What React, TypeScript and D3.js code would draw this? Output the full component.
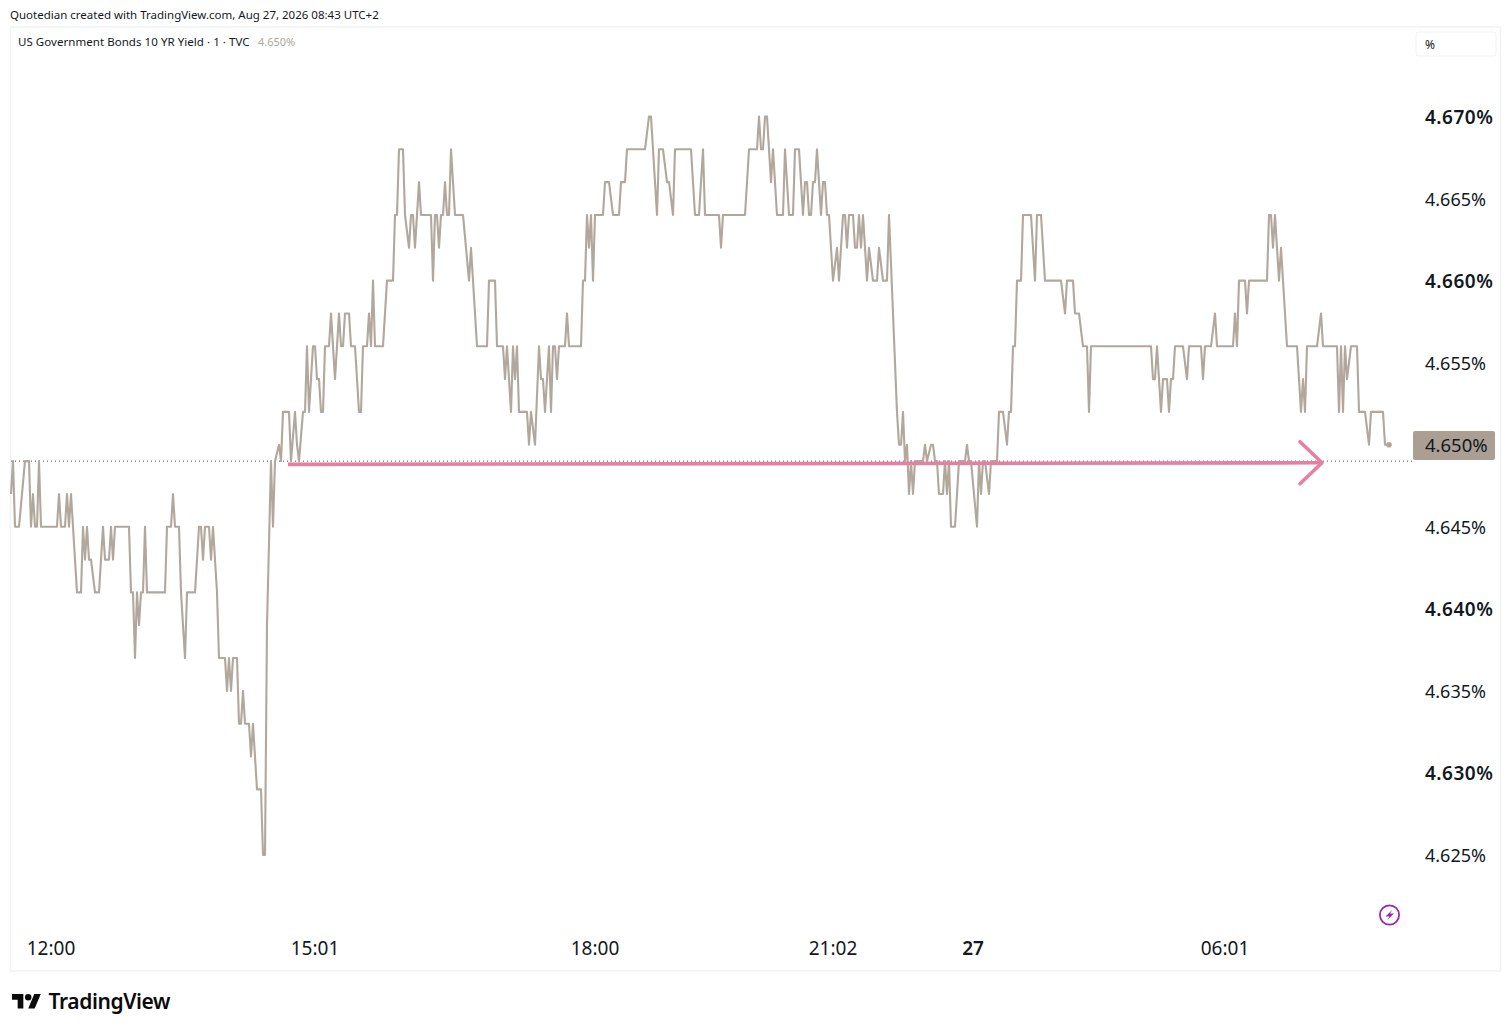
import * as d3 from "d3";

type Pt = [number, number];

// [bar index, yield] at each turn of the 1 minute line, flat stretches skipped
const morning: Pt[] = [
  [0, 4.647], [1, 4.649], [2, 4.645], [4, 4.645], [7, 4.649], [9, 4.649], [10, 4.645], [11, 4.647], [12, 4.645], [13, 4.645],
  [14, 4.649], [15, 4.645], [23, 4.645], [24, 4.647], [25, 4.645], [27, 4.645], [28, 4.647], [29, 4.645], [30, 4.647], [31, 4.645],
  [33, 4.641], [35, 4.641], [36, 4.645], [37, 4.643], [38, 4.645], [39, 4.643], [40, 4.643], [42, 4.641], [44, 4.641], [46, 4.645],
  [47, 4.643], [49, 4.643], [50, 4.645], [51, 4.643], [52, 4.645], [59, 4.645], [60, 4.641], [61, 4.641], [62, 4.637], [63, 4.641],
  [64, 4.639], [65, 4.641], [66, 4.641], [67, 4.645], [68, 4.641], [77, 4.641], [78, 4.645], [80, 4.645], [81, 4.647], [82, 4.645],
  [84, 4.645], [85, 4.641], [87, 4.637], [88, 4.641], [92, 4.641], [94, 4.645], [95, 4.645], [96, 4.643], [97, 4.645], [99, 4.645],
  [100, 4.643], [101, 4.645], [103, 4.641], [104, 4.637], [107, 4.637], [108, 4.635], [109, 4.637], [110, 4.635], [111, 4.637], [113, 4.637],
  [114, 4.633], [115, 4.633], [116, 4.635], [117, 4.633], [119, 4.633], [120, 4.631], [121, 4.633], [123, 4.629], [125, 4.629], [126, 4.625],
  [127, 4.625], [128, 4.639], [130, 4.649], [131, 4.645], [132, 4.649], [134, 4.65], [135, 4.649], [136, 4.652], [139, 4.652], [140, 4.649],
  [142, 4.652], [143, 4.65], [144, 4.649], [146, 4.652], [147, 4.652],
];
const afternoon: Pt[] = [
  [148, 4.656], [149, 4.652], [151, 4.656], [152, 4.656], [153, 4.654], [154, 4.654], [155, 4.652], [156, 4.652], [157, 4.656], [159, 4.656],
  [160, 4.658], [162, 4.654], [164, 4.658], [165, 4.656], [166, 4.656], [167, 4.658], [169, 4.658], [170, 4.656], [172, 4.656], [174, 4.652],
  [175, 4.652], [176, 4.656], [178, 4.656], [179, 4.658], [180, 4.656], [181, 4.66], [182, 4.656], [186, 4.656], [188, 4.66], [191, 4.66],
  [192, 4.664], [193, 4.664], [194, 4.668], [196, 4.668], [197, 4.664], [199, 4.662], [200, 4.664], [201, 4.664], [202, 4.662], [204, 4.666],
  [205, 4.664], [210, 4.664], [211, 4.66], [212, 4.664], [213, 4.664], [214, 4.662], [215, 4.664], [216, 4.664], [217, 4.666], [218, 4.664],
  [219, 4.664], [220, 4.668], [222, 4.664], [226, 4.664], [229, 4.66], [230, 4.662], [231, 4.66], [233, 4.656], [238, 4.656], [239, 4.66],
  [242, 4.66], [243, 4.656], [246, 4.656], [247, 4.654], [248, 4.656], [250, 4.652], [251, 4.656], [252, 4.654], [253, 4.656], [254, 4.652],
  [258, 4.652], [259, 4.65], [260, 4.652], [262, 4.65], [264, 4.656], [265, 4.654], [266, 4.654], [267, 4.652], [269, 4.656], [270, 4.652],
  [271, 4.656], [272, 4.656], [273, 4.654], [274, 4.656], [277, 4.656], [278, 4.658], [279, 4.656], [285, 4.656], [286, 4.66], [287, 4.66],
];
const evening: Pt[] = [
  [288, 4.664], [289, 4.662], [290, 4.664], [291, 4.66], [292, 4.664], [296, 4.664], [297, 4.666], [299, 4.666], [301, 4.664], [304, 4.664],
  [305, 4.666], [307, 4.666], [308, 4.668], [317, 4.668], [319, 4.67], [320, 4.67], [323, 4.664], [324, 4.668], [326, 4.668], [328, 4.666],
  [329, 4.666], [331, 4.664], [332, 4.668], [340, 4.668], [342, 4.664], [344, 4.664], [346, 4.668], [347, 4.664], [354, 4.664], [355, 4.662],
  [356, 4.664], [367, 4.664], [369, 4.668], [373, 4.668], [374, 4.67], [375, 4.668], [376, 4.668], [377, 4.67], [378, 4.67], [380, 4.666],
  [381, 4.668], [383, 4.664], [386, 4.664], [387, 4.668], [389, 4.664], [391, 4.664], [392, 4.668], [394, 4.668], [396, 4.664], [397, 4.666],
  [398, 4.666], [399, 4.664], [400, 4.664], [401, 4.666], [402, 4.666], [403, 4.668], [405, 4.664], [406, 4.666], [407, 4.666], [408, 4.664],
  [409, 4.664], [411, 4.66], [413, 4.662], [414, 4.66], [416, 4.664], [417, 4.664], [418, 4.662], [419, 4.664], [421, 4.664], [422, 4.662],
  [423, 4.662], [424, 4.664], [425, 4.662], [426, 4.664], [427, 4.662], [428, 4.66], [429, 4.662], [431, 4.66], [433, 4.66], [434, 4.662],
  [436, 4.66], [438, 4.66], [439, 4.664], [443, 4.652], [444, 4.65], [445, 4.65], [446, 4.652], [447, 4.649], [448, 4.65], [449, 4.647],
  [450, 4.649], [451, 4.647], [452, 4.649], [456, 4.649], [457, 4.65], [458, 4.649], [460, 4.65], [461, 4.65], [462, 4.649], [463, 4.649],
  [464, 4.647], [466, 4.647], [467, 4.649], [468, 4.647], [469, 4.649], [470, 4.645], [472, 4.645], [474, 4.649], [477, 4.649], [478, 4.65],
  [479, 4.649], [480, 4.649], [483, 4.645], [484, 4.649], [485, 4.647], [486, 4.649], [487, 4.649], [489, 4.647], [490, 4.649], [493, 4.649],
];
const overnight: Pt[] = [
  [494, 4.652], [496, 4.652], [498, 4.65], [499, 4.652], [500, 4.652], [501, 4.656], [502, 4.656], [503, 4.66], [505, 4.66], [506, 4.664],
  [510, 4.664], [512, 4.66], [513, 4.664], [515, 4.664], [517, 4.66], [525, 4.66], [527, 4.658], [528, 4.66], [531, 4.66], [532, 4.658],
  [534, 4.658], [536, 4.656], [538, 4.656], [539, 4.652], [540, 4.656], [570, 4.656], [571, 4.654], [572, 4.654], [573, 4.656], [575, 4.652],
  [576, 4.654], [578, 4.654], [579, 4.652], [580, 4.654], [581, 4.654], [582, 4.656], [586, 4.656], [588, 4.654], [589, 4.656], [595, 4.656],
  [596, 4.654], [597, 4.656], [600, 4.656], [602, 4.658], [603, 4.656], [611, 4.656], [612, 4.658], [613, 4.656], [614, 4.66], [617, 4.66],
  [618, 4.658], [619, 4.66], [628, 4.66], [629, 4.664], [630, 4.664], [631, 4.662], [632, 4.664], [634, 4.66], [635, 4.662], [636, 4.66],
  [638, 4.656], [643, 4.656], [645, 4.652], [646, 4.654], [647, 4.652], [648, 4.656], [653, 4.656], [655, 4.658], [656, 4.656], [663, 4.656],
  [664, 4.652], [665, 4.656], [666, 4.652], [667, 4.656], [668, 4.654], [670, 4.656], [673, 4.656], [674, 4.652], [677, 4.652], [679, 4.65],
  [680, 4.652], [686, 4.652], [687, 4.65], [689, 4.65],
];

const yTicks = [4.67, 4.665, 4.66, 4.655, 4.645, 4.64, 4.635, 4.63, 4.625];
const boldTicks = [4.67, 4.66, 4.64, 4.63];
const xTickBars = [20, 152, 292, 411, 481, 607];
const xTickLabels = ["12:00", "15:01", "18:00", "21:02", "27", "06:01"];

const prevClose = 4.649;
const lastPrice = 4.65;
// hand drawn arrow on the chart
const arrowBars = [138.5, 655.5];
const arrowYields = [4.6488, 4.6489];

const LINE = "#b1a79c";
const PINK = "#e77fa3";
const INK = "#131722";
const FONT = "'Noto Sans', sans-serif";

export default function App() {
  const width = 1510;
  const height = 1032;
  const x = d3.scaleLinear([0, 689], [11, 1389]);
  const y = d3.scaleLinear([4.625, 4.67], [855, 116.5]);
  const series = [...morning, ...afternoon, ...evening, ...overnight];
  const linePath = d3
    .line<Pt>()
    .x((d) => x(d[0]))
    .y((d) => y(d[1]))(series) ?? undefined;
  const last = series[series.length - 1];
  const tipX = x(arrowBars[1]);
  const tipY = y(arrowYields[1]);

  return (
    <svg
      viewBox={`0 0 ${width} ${height}`}
      width={width}
      height={height}
      style={{ position: "absolute", left: 0, top: 0, background: "#fff" }}
      fontFamily={FONT}
    >
      <text x={10} y={18.5} fontSize={11.5} fill={INK}>
        Quotedian created with TradingView.com, Aug 27, 2026 08:43 UTC+2
      </text>
      <rect x={10.5} y={27} width={1490} height={944} fill="none" stroke="#f1f2f4" strokeWidth={1.5} />

      <text x={18} y={45.5} fontSize={11.5} letterSpacing={0.05} fill={INK}>
        US Government Bonds 10 YR Yield · 1 · TVC
      </text>
      <text x={258} y={45.5} fontSize={11} fill={LINE}>4.650%</text>

      <rect x={1416} y={32} width={80} height={24} rx={3} fill="#fff" stroke="#f0f1f3" />
      <text x={1425} y={48.5} fontSize={12} fill={INK}>%</text>

      <line
        x1={11}
        x2={1412}
        y1={y(prevClose)}
        y2={y(prevClose)}
        stroke="#4a4e58"
        strokeWidth={1}
        strokeDasharray="1 3"
      />

      <path d={linePath} fill="none" stroke={LINE} strokeWidth={2.1} strokeLinejoin="round" />
      <circle cx={x(last[0])} cy={y(last[1])} r={2.8} fill={LINE} />

      <line
        x1={x(arrowBars[0])}
        y1={y(arrowYields[0])}
        x2={tipX}
        y2={tipY}
        stroke={PINK}
        strokeWidth={3.6}
      />
      <path
        d={`M${tipX - 22},${tipY - 21}L${tipX},${tipY}L${tipX - 22},${tipY + 21}`}
        fill="none"
        stroke={PINK}
        strokeWidth={3.6}
        strokeLinecap="round"
        strokeLinejoin="round"
      />

      {yTicks.map((t) => (
        <text
          key={t}
          x={1425}
          y={y(t) + 7.2}
          fontSize={boldTicks.includes(t) ? 19 : 18}
          fontWeight={boldTicks.includes(t) ? 600 : 400}
          letterSpacing={boldTicks.includes(t) ? 0.5 : 0}
          fill={INK}
        >
          {t.toFixed(3)}%
        </text>
      ))}
      <rect x={1413} y={431} width={82} height={29} rx={2} fill="#ab9f94" />
      <text x={1425} y={y(lastPrice) + 7.5} fontSize={18.5} fill={INK}>
        {lastPrice.toFixed(3)}%
      </text>

      {xTickBars.map((b, i) => (
        <text
          key={b}
          x={x(b)}
          y={955}
          textAnchor="middle"
          fontSize={19}
          fontWeight={xTickLabels[i] === "27" ? 600 : 400}
          fill={INK}
        >
          {xTickLabels[i]}
        </text>
      ))}

      <circle cx={1389.5} cy={915} r={9.6} fill="none" stroke="#9c27b0" strokeWidth={1.8} />
      <path d="M1392.5,909.5L1385.5,916.5H1389.5L1387,920.5L1394,913.5H1390Z" fill="#9c27b0" />

      <g transform="translate(12,990.8) scale(0.81)" fill="#0b0b0b">
        <path d="M14 22H7V11H0V4h14v18zM28 22h-8l7.5-18h8L28 22z" />
        <circle cx={20} cy={8} r={4} />
      </g>
      <text x={48.5} y={1008.5} fontSize={21} fontWeight={600} fill="#0b0b0b" letterSpacing={-0.4}>
        TradingView
      </text>
    </svg>
  );
}
